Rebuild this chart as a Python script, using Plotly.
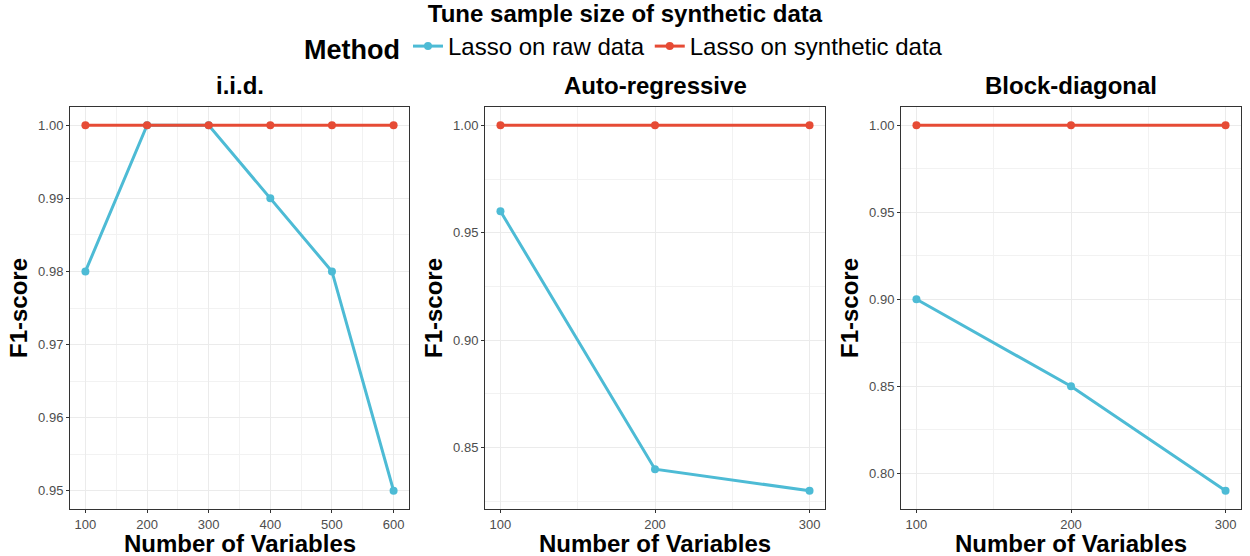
import plotly.graph_objects as go

panels = ["i.i.d.", "Auto-regressive", "Block-diagonal"]
x_iid = [100, 200, 300, 400, 500, 600]
raw_iid = [0.98, 1.00, 1.00, 0.99, 0.98, 0.95]
syn_iid = [1.00, 1.00, 1.00, 1.00, 1.00, 1.00]
x_ar = [100, 200, 300]
raw_ar = [0.96, 0.84, 0.83]
syn_ar = [1.00, 1.00, 1.00]
x_bd = [100, 200, 300]
raw_bd = [0.90, 0.85, 0.79]
syn_bd = [1.00, 1.00, 1.00]

methods = ["Lasso on raw data", "Lasso on synthetic data"]
colors = ["#4DBBD5", "#E64B35"]

W, H = 1250, 556
ml, mr, mt, mb = 70, 9, 107, 47
pw = W - ml - mr
px = [(70, 409), (485, 825), (901, 1241)]
doms = [[(a - ml) / pw, (b - ml) / pw] for a, b in px]

data = [(x_iid, raw_iid, syn_iid), (x_ar, raw_ar, syn_ar), (x_bd, raw_bd, syn_bd)]
yranges = [[0.9475, 1.0025], [0.8215, 1.0085], [0.7795, 1.0105]]
xranges = [[75, 625], [90, 310], [90, 310]]
ydt = [0.01, 0.05, 0.05]
xdt = [100, 100, 100]

FONT = "Liberation Sans, Arial, sans-serif"
fig = go.Figure()
for i, (xs, raw, syn) in enumerate(data):
    sfx = "" if i == 0 else str(i + 1)
    for j, ys in enumerate([raw, syn]):
        fig.add_trace(go.Scatter(
            x=xs, y=ys, mode="lines+markers", name=methods[j],
            line=dict(color=colors[j], width=3),
            marker=dict(color=colors[j], size=8),
            legendgroup=methods[j], showlegend=(i == 0),
            xaxis="x" + sfx, yaxis="y" + sfx))

layout = dict(
    width=W, height=H,
    margin=dict(l=ml, r=mr, t=mt, b=mb),
    plot_bgcolor="white", paper_bgcolor="white",
    font=dict(family=FONT, color="black"),
    title=dict(text="<b>Tune sample size of synthetic data</b>", x=0.5, xref="container",
               xanchor="center", y=1 - 14 / H, yref="container", yanchor="middle",
               font=dict(size=24, family=FONT, color="black")),
    legend=dict(orientation="h", x=0.5, xref="container", xanchor="center",
                y=1 - 47 / H, yref="container", yanchor="middle",
                title=dict(text="<b>Method</b>", font=dict(size=27, family=FONT, color="black")),
                font=dict(size=24, family=FONT, color="black"), itemwidth=30,
                bgcolor="rgba(0,0,0,0)"),
    showlegend=True,
)
annotations = []
for i in range(3):
    sfx = "" if i == 0 else str(i + 1)
    axcommon = dict(showline=True, mirror=True, linecolor="#333333", linewidth=1,
                    gridcolor="#EBEBEB", gridwidth=1, zeroline=False,
                    ticks="outside", ticklen=3, tickcolor="#333333",
                    tickfont=dict(size=13, color="#4D4D4D", family=FONT))
    layout["xaxis" + sfx] = dict(domain=doms[i], range=xranges[i], anchor="y" + sfx,
                                 tick0=100, dtick=xdt[i],
                                 minor=dict(tick0=50, dtick=xdt[i], showgrid=True,
                                            gridcolor="#F2F2F2", gridwidth=1, ticks=""),
                                 **axcommon)
    layout["yaxis" + sfx] = dict(domain=[0, 1], range=yranges[i], anchor="x" + sfx,
                                 tick0=1.0, dtick=ydt[i], tickformat=".2f",
                                 minor=dict(tick0=1.0 - ydt[i] / 2, dtick=ydt[i], showgrid=True,
                                            gridcolor="#F2F2F2", gridwidth=1, ticks=""),
                                 **axcommon)
    cx = (px[i][0] + px[i][1]) / 2
    annotations.append(dict(text="<b>" + panels[i] + "</b>", x=cx / W, y=1 - 86 / H,
                            xref="paper", yref="paper", showarrow=False,
                            xanchor="center", yanchor="middle",
                            font=dict(size=24, family=FONT, color="black")))
    annotations.append(dict(text="<b>Number of Variables</b>", x=cx / W, y=1 - 543 / H,
                            xref="paper", yref="paper", showarrow=False,
                            xanchor="center", yanchor="middle",
                            font=dict(size=24, family=FONT, color="black")))
    annotations.append(dict(text="<b>F1-score</b>", x=(px[i][0] - 52) / W, y=1 - 308 / H,
                            xref="paper", yref="paper", showarrow=False, textangle=-90,
                            xanchor="center", yanchor="middle",
                            font=dict(size=24, family=FONT, color="black")))

# convert annotation paper coords from figure pixels into plot-area fractions
for a in annotations:
    fx = a["x"] * W
    fy = (1 - a["y"]) * H
    a["x"] = (fx - ml) / pw
    a["y"] = (H - mb - fy) / (H - mt - mb)
layout["annotations"] = annotations
fig.update_layout(**layout)
fig.write_html("out.html", config={"displayModeBar": False},
               post_script="document.body.style.margin='0';document.body.style.overflow='hidden';")
